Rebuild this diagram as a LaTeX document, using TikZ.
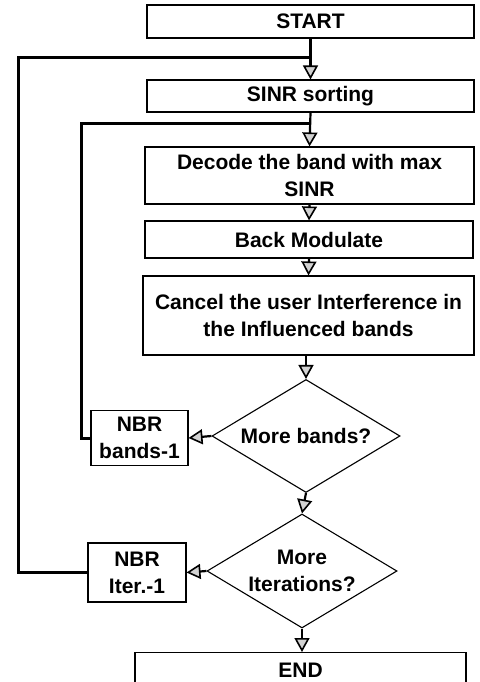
\documentclass[tikz,border=0pt]{standalone}
\usepackage{fontspec}
\setmainfont{Liberation Sans}
\usetikzlibrary{shapes.geometric,arrows.meta}
\begin{document}
\begin{tikzpicture}[x=1pt,y=-1pt,
  txt/.style={font=\bfseries\fontsize{21}{27}\selectfont},
  box/.style={txt,draw,line width=1.1pt,inner sep=0pt,align=center},
  dia/.style={txt,draw,diamond,line width=1.1pt,inner sep=-4pt,aspect=1.66,align=center},
  flow/.style={line width=2.2pt,-{Triangle[length=14pt,width=15pt,fill=gray!35,line width=1.6pt]}},
  loopline/.style={line width=3pt}]
\useasboundingbox (0,0) rectangle (479,682);
\node[box,minimum width=327pt,minimum height=33pt] (start) at (310.5,21.5) {START};
\node[box,minimum width=327pt,minimum height=32pt] (sort) at (310.5,96) {SINR sorting};
\node[box,minimum width=329pt,minimum height=57pt] (dec) at (309.5,175.5) {Decode the band with max\\SINR};
\node[box,minimum width=328pt,minimum height=37pt] (back) at (309,239.5) {Back Modulate};
\node[box,minimum width=331pt,minimum height=79pt] (canc) at (308.5,315.5) {Cancel the user Interference in\\the Influenced bands};
\node[dia,minimum width=188pt,minimum height=113pt] (mb) at (306,436) {More bands?};
\node[box,minimum width=97pt,minimum height=55pt] (nb) at (139.5,438) {NBR\\bands-1};
\node[dia,minimum width=190pt,minimum height=114pt] (mi) at (302,571) {More\\Iterations?};
\node[box,minimum width=98pt,minimum height=59pt] (ni) at (137,572.5) {NBR\\Iter.-1};
\begin{scope}
\clip (0,0) rectangle (479,682);
\node[box,minimum width=331pt,minimum height=50pt,anchor=north] (end) at (300.5,652) {};
\node[txt] (endt) at (300.5,670) {END};
\end{scope}
\coordinate (j1) at (311,58);
\coordinate (o1) at (18,58);
\coordinate (j2) at (311,124);
\coordinate (o2) at (81,124);
\draw[flow] (start.south) -- (sort.north);
\draw[flow] (sort.south) -- (dec.north);
\draw[flow] (dec.south) -- (back.north);
\draw[flow] (back.south) -- (canc.north);
\draw[flow] (canc.south -| mb.north) -- (mb.north);
\draw[flow] (mb.south) -- (mi.north);
\draw[flow] (mi.south) -- (end.north -| mi.south);
\draw[flow] (mb.west) -- (nb.east);
\draw[flow] (mi.west) -- (ni.east);
\draw[loopline] (nb.west) -| (o2) -- (j2);
\draw[loopline] (ni.west) -| (o1) -- (j1);
\end{tikzpicture}
\end{document}
